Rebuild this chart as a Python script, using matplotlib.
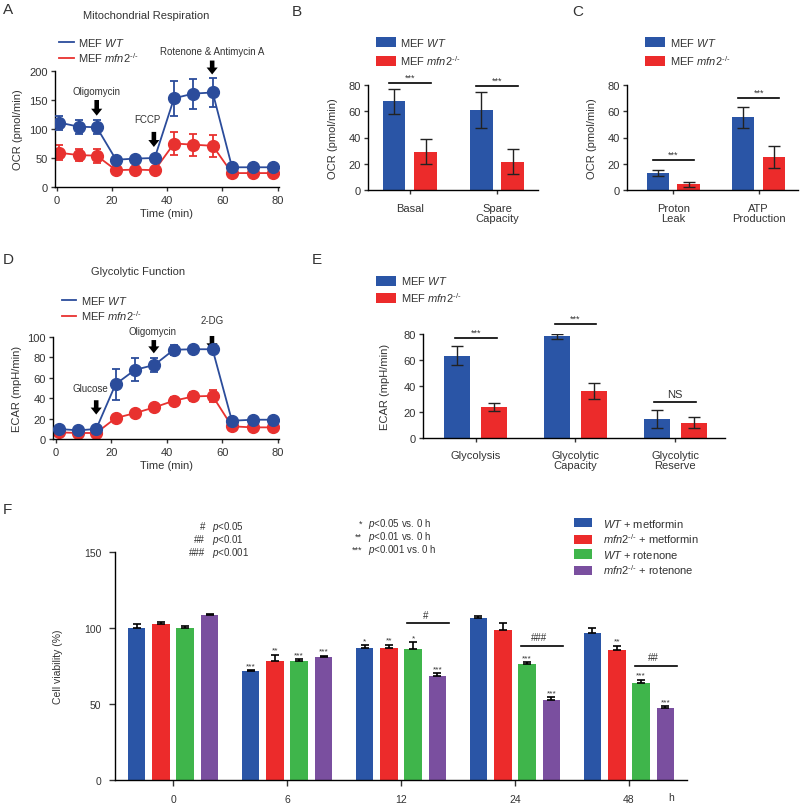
import numpy as np
import matplotlib
matplotlib.use("Agg")
import matplotlib.pyplot as plt
from matplotlib.lines import Line2D

plt.rcParams['font.family'] = ['Liberation Sans', 'DejaVu Sans']
plt.rcParams['mathtext.fontset'] = 'custom'
plt.rcParams['mathtext.rm'] = 'Liberation Sans'
plt.rcParams['mathtext.it'] = 'Liberation Sans:italic'
plt.rcParams['axes.linewidth'] = 1.0
plt.rcParams['xtick.major.width'] = 1.0
plt.rcParams['ytick.major.width'] = 1.0
plt.rcParams['xtick.major.size'] = 3
plt.rcParams['ytick.major.size'] = 3
TXT = '#333333'
plt.rcParams['text.color'] = TXT
plt.rcParams['xtick.color'] = TXT
plt.rcParams['ytick.color'] = TXT
plt.rcParams['axes.labelcolor'] = TXT

# ---------------- data ----------------
time_pts = [1, 8, 14.5, 21.5, 28.5, 35.5, 42.5, 49.5, 56.5, 63.5, 71, 78.5]
ocr_wt = [111, 104, 103, 47, 49, 50, 153, 161, 163, 34, 34, 34]
ocr_wt_err = [12, 12, 12, 3, 3, 3, 30, 26, 25, 3, 3, 3]
ocr_ko = [59, 55, 54, 29, 30, 29, 75, 73, 71, 24, 24, 24]
ocr_ko_err = [13, 11, 12, 2, 2, 2, 20, 19, 19, 2, 2, 2]

ecar_wt = [9.8, 8.5, 9.8, 53.7, 67.8, 72.6, 87.5, 88, 88, 17.9, 18.9, 18.9]
ecar_wt_err = [2, 1.5, 2, 15, 11.4, 7.3, 5, 1.5, 1.5, 2, 1.5, 1.5]
ecar_ko = [6.5, 5.9, 5.9, 20.5, 25.4, 31, 37.5, 41.7, 42.3, 12.4, 11.4, 11.4]
ecar_ko_err = [1, 1, 1, 1.5, 1.5, 1.5, 4, 4, 6, 1.5, 1, 1]

b_cats = ['Basal', 'Spare\nCapacity']
b_wt = [67.5, 61]
b_wt_err = [9.5, 13.5]
b_ko = [29, 21.4]
b_ko_err = [9.5, 9.5]
b_sig = ['***', '***']
b_sig_y = [81.5, 79]

c_cats = ['Proton\nLeak', 'ATP\nProduction']
c_wt = [12.7, 55.3]
c_wt_err = [2.2, 8]
c_ko = [4.3, 25.2]
c_ko_err = [2, 8.2]
c_sig = ['***', '***']
c_sig_y = [22.7, 69.8]

e_cats = ['Glycolysis', 'Glycolytic\nCapacity', 'Glycolytic\nReserve']
e_wt = [63.4, 78.2, 14.8]
e_wt_err = [7.3, 2, 6.9]
e_ko = [23.8, 36, 11.8]
e_ko_err = [2.8, 6, 4]
e_sig = ['***', '***', 'NS']
e_sig_y = [77.2, 87.4, 27.6]

f_times = ['0', '6', '12', '24', '48']
f_wt_met = [100.1, 71.4, 86.7, 106.7, 96.6]
f_wt_met_err = [2.6, 0.7, 1.8, 1.1, 3.5]
f_ko_met = [102.8, 78.4, 86.7, 99, 85.2]
f_ko_met_err = [1.1, 4, 2.2, 4.2, 2.9]
f_wt_rot = [100.1, 78.4, 86.3, 76.4, 63.9]
f_wt_rot_err = [1.5, 0.9, 4.4, 1.1, 2]
f_ko_rot = [108.7, 80.8, 68.7, 52.9, 47.2]
f_ko_rot_err = [0.7, 1.1, 1.5, 1.5, 1.3]
f_stars_wt_met = ['', '***', '*', '', '']
f_stars_ko_met = ['', '**', '**', '', '**']
f_stars_wt_rot = ['', '***', '*', '***', '***']
f_stars_ko_rot = ['', '***', '***', '***', '***']
f_hash = ['', '', '#', '###', '##']
f_hash_y = [0, 0, 103, 88, 75.3]

BLUE = '#2a55a6'
RED = '#ec2b2b'
GREEN = '#3fb54b'
PURPLE = '#7a4f9f'
LBLUE = '#2b4c9b'
LRED = '#e8312f'

W, H = 800, 804
fig = plt.figure(figsize=(W / 100, H / 100), dpi=100)


def px_axes(l, t, r, b):
    return fig.add_axes([l / W, 1 - b / H, (r - l) / W, (b - t) / H])


def ftext(x, y, s, **kw):
    fig.text(x / W, 1 - y / H, s, **kw)


def style(ax):
    ax.spines['top'].set_visible(False)
    ax.spines['right'].set_visible(False)
    ax.tick_params(labelsize=8, pad=2)


SUP = '^{\u2010/\u2010}'
WT_LAB = r'MEF $\it{WT}$'
KO_LAB = r'MEF $\it{mfn2}' + SUP + '$'

arrowprops = dict(arrowstyle='simple,head_width=0.8,head_length=0.5,tail_width=0.33',
                  color='black', lw=0, mutation_scale=10,
                  shrinkA=0, shrinkB=0)

# ---------------- panel A ----------------
axA = px_axes(55, 72, 279, 188)
style(axA)
axA.errorbar(time_pts, ocr_wt, yerr=ocr_wt_err, color=LBLUE, marker='o', ms=8.5,
             lw=1.3, capsize=3, elinewidth=1.3, capthick=1.3, zorder=3)
axA.errorbar(time_pts, ocr_ko, yerr=ocr_ko_err, color=LRED, marker='o', ms=8.5,
             lw=1.3, capsize=3, elinewidth=1.3, capthick=1.3, zorder=2)
axA.set_xlim(-0.6, 80.5)
axA.set_ylim(0, 200)
axA.set_yticks([0, 50, 100, 150, 200])
axA.set_xticks([0, 20, 40, 60, 80])
axA.tick_params(axis='x', pad=3)
axA.set_xlabel('Time (min)', fontsize=8, labelpad=2)
axA.set_ylabel('OCR (pmol/min)', fontsize=8, labelpad=5)
axA.legend([Line2D([], [], color=LBLUE, lw=1.3), Line2D([], [], color=LRED, lw=1.3)],
           [WT_LAB, KO_LAB], loc='lower left', bbox_to_anchor=(0.0, 1.02),
           frameon=False, fontsize=8, handlelength=1.3, handletextpad=0.4,
           labelspacing=0.25, borderaxespad=0)

for x, ytail, ytip, lab, ly in [(14.5, 150, 123, 'Oligomycin', 166),
                                (35.2, 95, 69, 'FCCP', 117),
                                (56.3, 218, 194, 'Rotenone & Antimycin A', 234)]:
    axA.annotate('', xy=(x, ytip), xytext=(x, ytail), arrowprops=arrowprops,
                 annotation_clip=False)
    dx = -2.5 if lab == 'FCCP' else 0
    axA.text(x + dx, ly, lab, fontsize=7, ha='center', va='center', clip_on=False)
ftext(146, 16, 'Mitochondrial Respiration', fontsize=8, ha='center', va='center')
ftext(3, 10, 'A', fontsize=11, ha='left', va='center')


# ---------------- bar helper ----------------
def two_bar(ax, cats, wt, wt_err, ko, ko_err, sig, sig_y, width, off, sigw):
    x = np.arange(len(cats))
    ekw = dict(elinewidth=1.0, capthick=1.0, ecolor='#222222')
    ax.bar(x - off, wt, width, yerr=wt_err, color=BLUE, capsize=4, error_kw=ekw,
           label=WT_LAB)
    ax.bar(x + off, ko, width, yerr=ko_err, color=RED, capsize=4, error_kw=ekw,
           label=KO_LAB)
    for xi, s, sy in zip(x, sig, sig_y):
        ax.plot([xi - sigw, xi + sigw], [sy, sy], color='black', lw=1.2, clip_on=False)
        if s == 'NS':
            ax.text(xi, sy + 2.5, s, fontsize=8, ha='center', va='bottom')
        else:
            ax.text(xi, sy + 1.0, s, fontsize=6.5, ha='center', va='bottom')
    ax.set_xticks(x)
    ax.set_xticklabels(cats, fontsize=8, linespacing=1.0)
    ax.set_ylim(0, 80)
    ax.set_yticks([0, 20, 40, 60, 80])
    ax.tick_params(axis='x', length=3, pad=6)


axB = px_axes(368, 86, 538, 191)
style(axB)
two_bar(axB, b_cats, b_wt, b_wt_err, b_ko, b_ko_err, b_sig, b_sig_y, 0.26, 0.18, 0.24)
axB.tick_params(axis='x', length=3, pad=6)
axB.set_xlim(-0.48, 1.47)
axB.set_ylabel('OCR (pmol/min)', fontsize=8, labelpad=8)
axB.legend(loc='lower left', bbox_to_anchor=(0.02, 1.13), frameon=False, fontsize=8,
           handlelength=1.8, handleheight=1.0, handletextpad=0.4, labelspacing=0.5,
           borderaxespad=0)
ftext(292, 12, 'B', fontsize=11, ha='left', va='center')

axC = px_axes(627, 86, 798, 191)
style(axC)
two_bar(axC, c_cats, c_wt, c_wt_err, c_ko, c_ko_err, c_sig, c_sig_y, 0.26, 0.18, 0.24)
axC.tick_params(axis='x', length=3, pad=6)
axC.set_xlim(-0.54, 1.46)
axC.set_ylabel('OCR (pmol/min)', fontsize=8, labelpad=8)
axC.legend(loc='lower left', bbox_to_anchor=(0.08, 1.13), frameon=False, fontsize=8,
           handlelength=1.8, handleheight=1.0, handletextpad=0.4, labelspacing=0.5,
           borderaxespad=0)
ftext(572, 12, 'C', fontsize=11, ha='left', va='center')

# ---------------- panel D ----------------
axD = px_axes(53, 338, 279, 440)
style(axD)
axD.errorbar(time_pts, ecar_wt, yerr=ecar_wt_err, color=LBLUE, marker='o', ms=8.5,
             lw=1.3, capsize=3, elinewidth=1.3, capthick=1.3, zorder=3)
axD.errorbar(time_pts, ecar_ko, yerr=ecar_ko_err, color=LRED, marker='o', ms=8.5,
             lw=1.3, capsize=3, elinewidth=1.3, capthick=1.3, zorder=2)
axD.set_xlim(-1.1, 80.5)
axD.set_ylim(0, 100)
axD.set_yticks([0, 20, 40, 60, 80, 100])
axD.set_xticks([0, 20, 40, 60, 80])
axD.tick_params(axis='x', pad=3)
axD.set_xlabel('Time (min)', fontsize=8, labelpad=2)
axD.set_ylabel('ECAR (mpH/min)', fontsize=8, labelpad=4)
axD.legend([Line2D([], [], color=LBLUE, lw=1.3), Line2D([], [], color=LRED, lw=1.3)],
           [WT_LAB, KO_LAB], loc='lower left', bbox_to_anchor=(0.02, 1.10),
           frameon=False, fontsize=8, handlelength=1.3, handletextpad=0.4,
           labelspacing=0.25, borderaxespad=0)
for x, ytail, ytip, lab, lx, ly in [(14.5, 38, 24, 'Glucose', 12.5, 50),
                                    (35.3, 97, 84, 'Oligomycin', 35, 106),
                                    (56.3, 101, 87, '2-DG', 56.3, 117)]:
    axD.annotate('', xy=(x, ytip), xytext=(x, ytail), arrowprops=arrowprops,
                 annotation_clip=False)
    axD.text(lx, ly, lab, fontsize=7, ha='center', va='center', clip_on=False)
ftext(138, 272, 'Glycolytic Function', fontsize=8, ha='center', va='center')
ftext(3, 260, 'D', fontsize=11, ha='left', va='center')

# ---------------- panel E ----------------
axE = px_axes(423, 335, 725, 439)
style(axE)
two_bar(axE, e_cats, e_wt, e_wt_err, e_ko, e_ko_err, e_sig, e_sig_y, 0.26, 0.185, 0.21)
axE.tick_params(axis='x', length=3, pad=6)
axE.set_xlim(-0.53, 2.5)
axE.set_ylabel('ECAR (mpH/min)', fontsize=8, labelpad=10)
axE.legend(loc='lower left', bbox_to_anchor=(-0.17, 1.25), frameon=False, fontsize=8,
           handlelength=1.8, handleheight=1.0, handletextpad=0.4, labelspacing=0.3,
           borderaxespad=0)
ftext(312, 260, 'E', fontsize=11, ha='left', va='center')

# ---------------- panel F ----------------
axF = px_axes(115, 553, 687, 781)
style(axF)
axF.tick_params(labelsize=7.5, length=4, pad=6)
xf = np.arange(len(f_times))
offs = [-0.32, -0.107, 0.107, 0.32]
wF = 0.155
series = [(f_wt_met, f_wt_met_err, BLUE, r'$\it{WT}$ + metformin', f_stars_wt_met),
          (f_ko_met, f_ko_met_err, RED, r'$\it{mfn2}' + SUP + '$ + metformin', f_stars_ko_met),
          (f_wt_rot, f_wt_rot_err, GREEN, r'$\it{WT}$ + rotenone', f_stars_wt_rot),
          (f_ko_rot, f_ko_rot_err, PURPLE, r'$\it{mfn2}' + SUP + '$ + rotenone', f_stars_ko_rot)]
for (vals, errs, col, lab, stars), o in zip(series, offs):
    errs = np.array(errs)
    axF.bar(xf + o, vals, wF, yerr=[np.zeros_like(errs), errs], color=col, capsize=3,
            error_kw=dict(elinewidth=1.2, capthick=1.2, ecolor='black'), label=lab)
    for xi, v, e, s in zip(xf, vals, errs, stars):
        if s:
            axF.text(xi + o, v + e + 0.8, s, fontsize=6, ha='center', va='bottom')
for xi, s, hy in zip(xf, f_hash, f_hash_y):
    if s:
        axF.plot([xi + 0.05, xi + 0.42], [hy, hy], color='black', lw=1.2)
        axF.text(xi + 0.215, hy + 2.5, s, fontsize=7, ha='center', va='bottom')
axF.set_xlim(-0.51, 4.51)
axF.set_ylim(0, 150)
axF.set_yticks([0, 50, 100, 150])
axF.set_xticks(xf)
axF.set_xticklabels(f_times)
axF.set_ylabel('Cell viability (%)', fontsize=7.5, labelpad=15)
axF.text(4.37, -11.5, 'h', fontsize=7.5, ha='center', va='center', clip_on=False)
axF.legend(loc='upper left', bbox_to_anchor=(0.795, 1.175), frameon=False, fontsize=8,
           handlelength=1.6, handleheight=0.9, handletextpad=1.0, labelspacing=0.25,
           borderaxespad=0)
for y, h, p in [(527, '#', 'p<0.05'), (540, '##', 'p<0.01'), (553, '###', 'p<0.001')]:
    ftext(205, y, h, fontsize=7, ha='right', va='center')
    ftext(212, y, r'$\it{p}$' + p[1:], fontsize=7, ha='left', va='center')
for y, h, p in [(524, '*', 'p<0.05 vs. 0 h'), (537, '**', 'p<0.01 vs. 0 h'),
                (550, '***', 'p<0.001 vs. 0 h')]:
    ftext(362, y, h, fontsize=6.5, ha='right', va='center')
    ftext(368, y, r'$\it{p}$' + p[1:], fontsize=7, ha='left', va='center')
ftext(3, 510, 'F', fontsize=11, ha='left', va='center')

fig.savefig('out.png', dpi=100)
